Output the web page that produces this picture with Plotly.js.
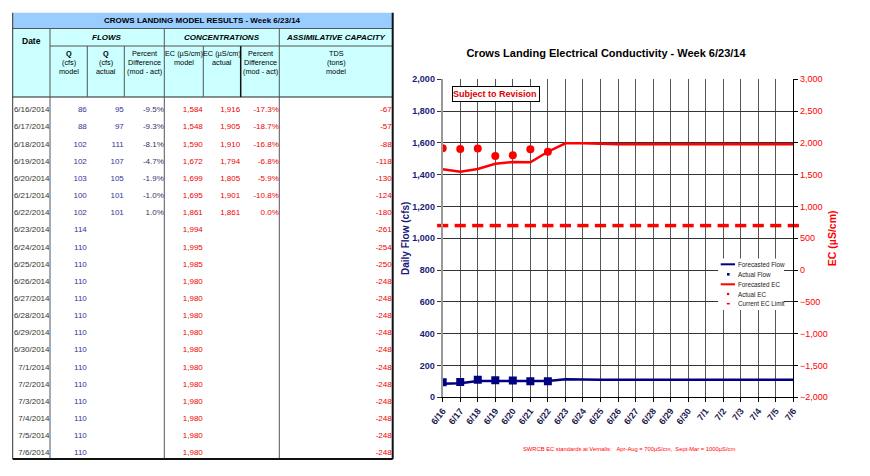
<!DOCTYPE html>
<html><head><meta charset="utf-8">
<script src="https://cdn.plot.ly/plotly-3.0.1.min.js"></script>
<style>html,body{margin:0;padding:0;background:#fff}#chart{width:870px;height:476px}</style>
</head><body><div id="chart"></div>
<script>
// ---------------- data ----------------
const dates = ['6/16/2014','6/17/2014','6/18/2014','6/19/2014','6/20/2014','6/21/2014','6/22/2014',
  '6/23/2014','6/24/2014','6/25/2014','6/26/2014','6/27/2014','6/28/2014','6/29/2014','6/30/2014',
  '7/1/2014','7/2/2014','7/3/2014','7/4/2014','7/5/2014','7/6/2014'];
const tickLabels = ['6/16','6/17','6/18','6/19','6/20','6/21','6/22','6/23','6/24','6/25','6/26',
  '6/27','6/28','6/29','6/30','7/1','7/2','7/3','7/4','7/5','7/6'];
const qModel = [86,88,102,102,103,100,102,114,110,110,110,110,110,110,110,110,110,110,110,110,110];
const qActual = [95,97,111,107,105,101,101];
const qPctDiff = [-9.5,-9.3,-8.1,-4.7,-1.9,-1.0,1.0];
const ecModel = [1584,1548,1590,1672,1699,1695,1861,1994,1995,1985,1980,1980,1980,1980,1980,1980,1980,1980,1980,1980,1980];
const ecActual = [1916,1905,1910,1794,1805,1901,1861];
const ecPctDiff = [-17.3,-18.7,-16.8,-6.8,-5.9,-10.8,0.0];
const tdsModel = [-67,-57,-88,-118,-130,-124,-180,-261,-254,-250,-248,-248,-248,-248,-248,-248,-248,-248,-248,-248,-248];
const ecLimit = [700,700,700,700,700,700,700,700,700,700,700,700,700,700,700,700,700,700,700,700,700];

// ---------------- helpers ----------------
const W = 870, H = 476;
const px = x => x / W, py = y => 1 - y / H;
const FN = 'Liberation Sans, Arial, sans-serif';
const NAVY = '#1a1a78', RED = '#ff0000';
const fmtInt = v => v.toLocaleString('en-US');
const fmtPct = v => v.toFixed(1) + '%';

const shapes = [], annotations = [];
function ln(x0, y0, x1, y1, color, width) {
  shapes.push({type:'line', xref:'paper', yref:'paper', x0:px(x0), y0:py(y0), x1:px(x1), y1:py(y1),
    line:{color:color, width:width}});
}
function rc(x0, y0, x1, y1, fill, lineColor, lw) {
  shapes.push({type:'rect', xref:'paper', yref:'paper', x0:px(x0), y0:py(y0), x1:px(x1), y1:py(y1),
    fillcolor:fill, line:{color:lineColor || fill, width:lw || 0}});
}
function tx(x, y, text, o) {
  o = o || {};
  annotations.push({xref:'paper', yref:'paper', x:px(x), y:py(y), text:text, showarrow:false,
    xanchor:o.xa || 'center', yanchor:o.ya || 'middle', align:o.al || 'center',
    font:{family:FN, size:o.size || 8, color:o.color || '#000', weight:o.weight || 'normal', style:o.style || 'normal'}});
}

// ---------------- table (left) ----------------
const T = {l:12.7, r:392.7, top:12.7, t1:28.5, t2:46, hb:97, b:459};
const cols = {date:50, qm:87.3, qa:124.3, qp:164.3, em:203.3, ea:240.7, ep:279.3, tds:392.7};
rc(T.l, T.top, T.r, T.t1, '#99ccff');
rc(T.l, T.t1, T.r, T.hb, '#ccffff');
tx((T.l + T.r) / 2, 20.7, 'CROWS LANDING MODEL RESULTS - Week 6/23/14', {size:8, weight:'bold'});
tx((T.l + cols.date) / 2, 40.5, 'Date', {size:8.5, weight:'bold'});
tx((cols.date + cols.qp) / 2, 38, 'FLOWS', {size:8, weight:'bold', style:'italic'});
tx((cols.qp + cols.ep) / 2, 38, 'CONCENTRATIONS', {size:8, weight:'bold', style:'italic'});
tx((cols.ep + cols.tds) / 2, 38, 'ASSIMILATIVE CAPACITY', {size:8, weight:'bold', style:'italic'});
const sub = [
  [(cols.date + cols.qm) / 2, ['<b>Q</b>', '(cfs)', 'model']],
  [(cols.qm + cols.qa) / 2, ['<b>Q</b>', '(cfs)', 'actual']],
  [(cols.qa + cols.qp) / 2, ['Percent', 'Difference', '(mod - act)']],
  [(cols.qp + cols.em) / 2, ['EC (µS/cm)', 'model']],
  [(cols.em + cols.ea) / 2, ['EC (µS/cm)', 'actual']],
  [(cols.ea + cols.ep) / 2, ['Percent', 'Difference', '(mod - act)']],
  [(cols.ep + cols.tds) / 2, ['TDS', '(tons)', 'model']]
];
sub.forEach(s => s[1].forEach((t, i) => tx(s[0], 53 + i * 9.4, t, {size:7.3})));
// borders
const G = '#555';
ln(T.l, T.t1, T.r, T.t1, G, 1);
ln(cols.date, T.t2, T.r, T.t2, G, 1);
ln(T.l, T.hb, T.r, T.hb, '#222', 1);
ln(cols.date, T.t1, cols.date, T.b, G, 1);
ln(cols.qp, T.t1, cols.qp, T.b, G, 1);
ln(cols.ep, T.t1, cols.ep, T.b, G, 1);
[cols.qm, cols.qa, cols.em].forEach(x => ln(x, T.t2, x, T.hb, G, 1));
ln(cols.ea, T.t2, cols.ea, T.hb, '#111', 1.5);
ln(T.l, T.top, T.l, T.b, '#333', 1);
ln(T.r, T.top, T.r, T.b, '#111', 2);
ln(T.l, T.b, T.r, T.b, '#111', 2);

function colTrace(xRight, ys, texts, color) {
  return {type:'scatter', mode:'text', xaxis:'x3', yaxis:'y3', x:ys.map(() => xRight), y:ys,
    text:texts, textposition:'middle left', textfont:{family:FN, size:8, color:color},
    hoverinfo:'skip', showlegend:false, cliponaxis:false};
}
const n7 = dates.slice(0, qActual.length);
const tableTraces = [
  colTrace(cols.date - 0.5, dates, dates, '#333333'),
  colTrace(cols.qm - 0.5, dates, qModel.map(fmtInt), '#333399'),
  colTrace(cols.qa - 0.5, n7, qActual.map(fmtInt), '#333399'),
  colTrace(cols.qp - 0.5, n7, qPctDiff.map(fmtPct), '#333366'),
  colTrace(cols.em - 0.5, dates, ecModel.map(fmtInt), '#ee0000'),
  colTrace(cols.ea - 0.5, n7, ecActual.map(fmtInt), '#ee0000'),
  colTrace(cols.ep - 0.5, n7, ecPctDiff.map(fmtPct), '#ee0000'),
  colTrace(cols.tds - 1, dates, tdsModel.map(fmtInt), '#ee0000')
];

// ---------------- chart (right) ----------------
const P = {l:442.7, r:793.3, t:79.3, b:397.3};
const chartTraces = [
  {type:'scatter', mode:'lines', name:'Forecasted Flow', x:tickLabels, y:qModel,
    line:{color:'#000080', width:2.5}},
  {type:'scatter', mode:'markers', name:'Actual Flow', x:tickLabels.slice(0, qActual.length), y:qActual,
    marker:{symbol:'square', size:8, color:'#000080'}},
  {type:'scatter', mode:'lines', name:'Forecasted EC', x:tickLabels, y:ecModel, yaxis:'y2',
    line:{color:RED, width:2.5}},
  {type:'scatter', mode:'markers', name:'Actual EC', x:tickLabels.slice(0, ecActual.length), y:ecActual, yaxis:'y2',
    marker:{symbol:'circle', size:8, color:RED}},
  {type:'scatter', mode:'markers', name:'Current EC Limit', x:tickLabels, y:ecLimit, yaxis:'y2',
    marker:{symbol:'line-ew', size:8, color:RED, line:{color:RED, width:3.5}}, cliponaxis:false}
];

// Subject to Revision box
annotations.push({xref:'paper', yref:'paper', x:px(451.7), y:py(86), xanchor:'left', yanchor:'top',
  text:'Subject to Revision', showarrow:false, bgcolor:'#fff', bordercolor:'#000', borderwidth:1,
  borderpad:0, width:86, height:13.5, align:'left',
  font:{family:FN, size:9, color:'#e00000', weight:'bold'}});
// manual legend
rc(718, 258.5, 784, 310, '#ffffff');
const legY = [264.3, 274.3, 284.3, 294, 303.7];
const legT = ['Forecasted Flow', 'Actual Flow', 'Forecasted EC', 'Actual EC', 'Current EC Limit'];
ln(720.7, legY[0], 735, legY[0], '#000080', 2);
rc(727, legY[1] - 1.3, 729.6, legY[1] + 1.3, '#000080');
ln(720.7, legY[2], 735, legY[2], RED, 2);
shapes.push({type:'circle', xref:'paper', yref:'paper', x0:px(726.8), x1:px(729.4), y0:py(legY[3] - 1.3), y1:py(legY[3] + 1.3), fillcolor:RED, line:{width:0}});
ln(726.8, legY[4], 729.8, legY[4], RED, 1.5);
legT.forEach((t, i) => tx(736.2, legY[i], t, {xa:'left', al:'left', size:6.3, color:'#222'}));
// note
tx(628.7, 449, 'SWRCB EC standards at Vernalis:\u00a0\u00a0\u00a0Apr-Aug = 700µS/cm,\u00a0\u00a0Sept-Mar = 1000µS/cm', {size:5.8, color:RED});

const layout = {
  width:W, height:H, margin:{l:0, r:0, t:0, b:0}, paper_bgcolor:'#fff', plot_bgcolor:'#fff',
  showlegend:false,
  title:{text:'Crows Landing Electrical Conductivity - Week 6/23/14', x:px(606), y:py(53),
    xanchor:'center', yanchor:'middle', xref:'paper', yref:'container',
    font:{family:FN, size:11, color:'#000', weight:'bold'}},
  xaxis:{domain:[px(P.l), px(P.r)], type:'category', categoryarray:tickLabels, range:[0, 20],
    showgrid:true, gridcolor:'#555', gridwidth:1, showline:true, linecolor:'#000', linewidth:1,
    ticks:'outside', ticklen:4, tickcolor:'#000', tickangle:-52,
    tickfont:{family:FN, size:9, color:'#1a1a50', weight:'bold'}, anchor:'y', zeroline:false},
  yaxis:{domain:[py(P.b), py(P.t)], range:[0, 2000], dtick:200, tickformat:',d',
    showgrid:true, gridcolor:'#333', gridwidth:1, zeroline:false, showline:true, linecolor:'#999', linewidth:2,
    ticks:'outside', ticklen:4, tickcolor:'#333',
    tickfont:{family:FN, size:9, color:NAVY, weight:'bold'},
    title:{text:'Daily Flow (cfs)', font:{family:FN, size:10, color:NAVY, weight:'bold'}, standoff:1}},
  yaxis2:{overlaying:'y', side:'right', range:[-2000, 3000], dtick:500, tickformat:',d',
    showgrid:false, zeroline:false, showline:true, linecolor:'#000', linewidth:1,
    ticks:'outside', ticklen:4, tickcolor:'#000',
    tickfont:{family:FN, size:9, color:RED},
    title:{text:'EC (µS/cm)', font:{family:FN, size:10.5, color:RED, weight:'bold'}, standoff:1}},
  xaxis3:{domain:[px(T.l), px(T.r)], range:[T.l, T.r], visible:false, fixedrange:true, anchor:'y3'},
  yaxis3:{domain:[py(T.b), py(T.hb)], type:'category', categoryarray:dates, range:[20.33, -0.775],
    visible:false, fixedrange:true, anchor:'x3'},
  shapes:shapes, annotations:annotations
};

Plotly.newPlot('chart', tableTraces.concat(chartTraces), layout, {displayModeBar:false, staticPlot:true});
</script></body></html>
